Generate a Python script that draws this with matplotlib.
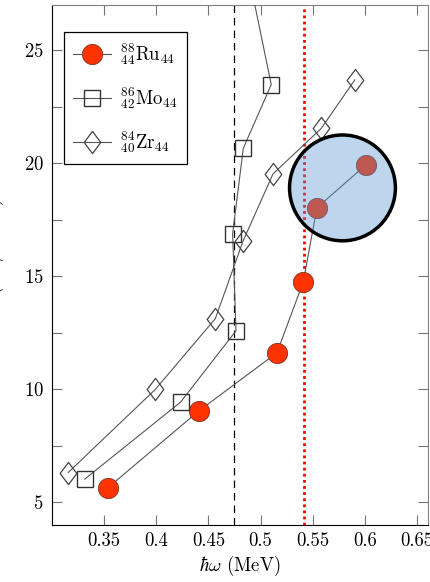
import numpy as np
import matplotlib
matplotlib.use('Agg')
import matplotlib.pyplot as plt
from matplotlib.path import Path
from matplotlib.patches import Ellipse
from matplotlib.ticker import MultipleLocator

plt.rcParams['font.family'] = 'serif'
plt.rcParams['font.serif'] = ['cmr10']
plt.rcParams['mathtext.fontset'] = 'cm'
plt.rcParams['axes.formatter.use_mathtext'] = True
plt.rcParams['font.size'] = 13.5

# Values
ru_x = [0.3534, 0.4406, 0.5157, 0.5409, 0.5540, 0.6012]
ru_y = [5.64, 9.04, 11.62, 14.75, 18.03, 19.94]
mo_x = [0.3314, 0.4234, 0.4764, 0.4732, 0.4834, 0.5102, 0.4811]
mo_y = [6.03, 9.44, 12.59, 16.88, 20.66, 23.48, 30.0]
zr_x = [0.3155, 0.3991, 0.4566, 0.4832, 0.5119, 0.5581, 0.5904]
zr_y = [6.32, 10.00, 13.13, 16.56, 19.53, 21.54, 23.69]
labels = [r'${}^{88}_{44}\mathrm{Ru}_{44}$',
          r'${}^{86}_{42}\mathrm{Mo}_{44}$',
          r'${}^{84}_{40}\mathrm{Zr}_{44}$']
dashed_x = 0.4743
dotted_x = 0.542
# highlighted region (center, width, height in data units)
circ_center = (0.5785, 18.91)
circ_w, circ_h = 0.1015, 4.68

diamond = Path([(0, 1), (0.75, 0), (0, -1), (-0.75, 0), (0, 1)],
               [Path.MOVETO, Path.LINETO, Path.LINETO, Path.LINETO, Path.CLOSEPOLY])

fig = plt.figure(figsize=(4.31, 5.82), dpi=100)
ax = fig.add_axes([52 / 431, 57 / 582, 376 / 431, 520 / 582])

line_c = '#555555'
ax.axvline(dashed_x, color='black', lw=0.9, ls=(0, (6, 4)), zorder=1)
ax.axvline(dotted_x, color='red', lw=2.0, ls=(0, (1, 1.2)), zorder=1)

ax.plot(ru_x, ru_y, color=line_c, lw=0.8, marker='o', markersize=14.5,
        markerfacecolor='#ff3300', markeredgecolor='#8a3a2a', markeredgewidth=0.7,
        label=labels[0], zorder=3)
ax.plot(mo_x, mo_y, color=line_c, lw=0.8, marker='s', markersize=11,
        markerfacecolor='none', markeredgecolor='#333333', markeredgewidth=1.0,
        label=labels[1], zorder=3)
ax.plot(zr_x, zr_y, color=line_c, lw=0.8, marker=diamond, markersize=16,
        markerfacecolor='none', markeredgecolor='#444444', markeredgewidth=0.9,
        label=labels[2], zorder=3)

ax.add_patch(Ellipse(circ_center, circ_w, circ_h, facecolor=(86/255, 150/255, 211/255, 0.39),
                     edgecolor='black', lw=2.5, zorder=4))

ax.set_xlim(0.30, 0.6605)
ax.set_ylim(4, 27)
ax.set_xticks([0.35, 0.4, 0.45, 0.5, 0.55, 0.6, 0.65])
ax.set_xticklabels(['0.35', '0.4', '0.45', '0.5', '0.55', '0.6', '0.65'])
ax.set_yticks([5, 10, 15, 20, 25])
ax.yaxis.set_minor_locator(MultipleLocator(2.5))
ax.tick_params(which='both', direction='in', top=True, right=True,
               length=7, width=0.8, color='0.45')
ax.tick_params(axis='x', pad=5)
ax.tick_params(axis='y', pad=6)
for s in ['top', 'right']:
    ax.spines[s].set_color('0.5')
ax.set_xlabel(r'$\hbar\omega$ (MeV)', labelpad=3)
ax.set_ylabel(r'$\mathcal{J}^{(2)}$ ($\hbar^2$ / MeV)', labelpad=13)

leg = ax.legend(loc='upper left', bbox_to_anchor=(0.032, 0.948), borderaxespad=0,
                fancybox=False, edgecolor='black', framealpha=1, handlelength=2.0,
                labelspacing=0.95, borderpad=0.5, handletextpad=0.5)
leg.get_frame().set_linewidth(0.9)

fig.savefig('out.png', dpi=100)
